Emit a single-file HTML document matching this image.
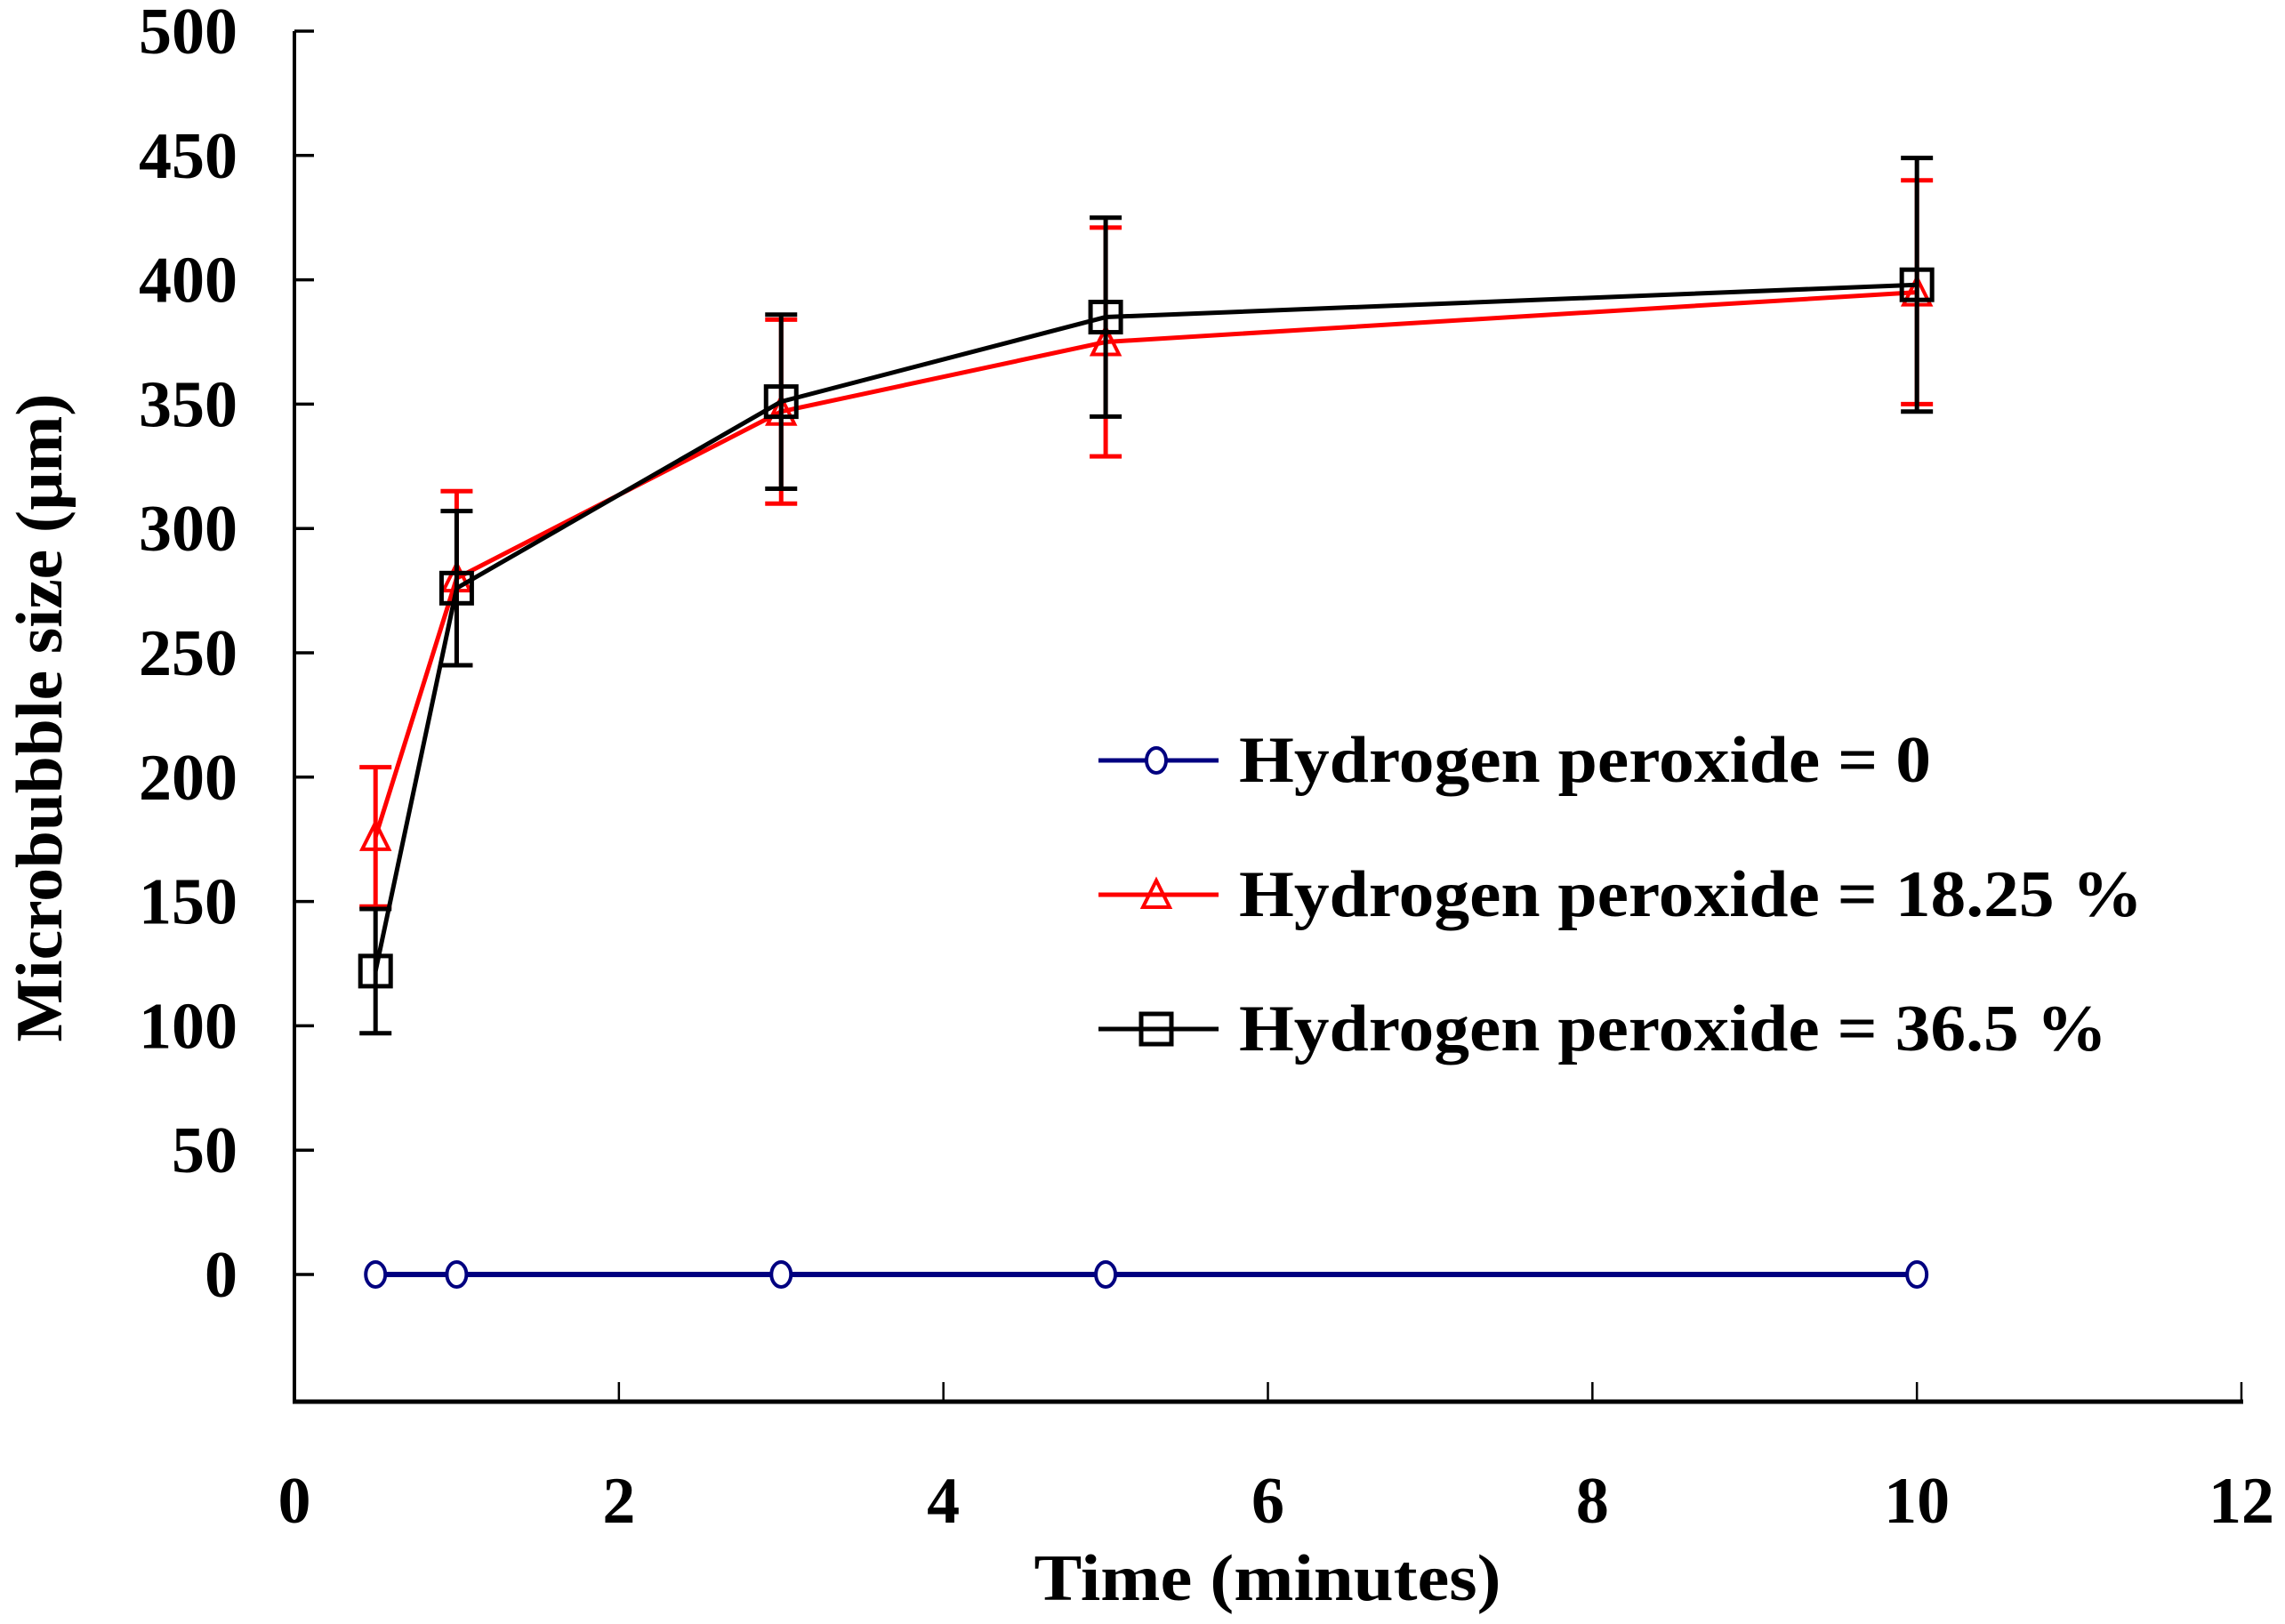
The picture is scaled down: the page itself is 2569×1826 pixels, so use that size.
<!DOCTYPE html>
<html><head><meta charset="utf-8"><style>
html,body{margin:0;padding:0;background:#fff;}
svg{display:block;}
text{font-family:"Liberation Serif",serif;font-weight:bold;fill:#000;}
</style></head><body>
<svg id="chart" width="2569" height="1826" viewBox="0 0 2569 1826" xmlns="http://www.w3.org/2000/svg">
<g id="axes"></g>
<g id="series"></g>
<g id="legend"></g>
<text x="1425" y="1799" font-size="74" text-anchor="middle" textLength="525" lengthAdjust="spacingAndGlyphs">Time (minutes)</text>
<text transform="translate(69,807) rotate(-90)" font-size="74" text-anchor="middle" textLength="729" lengthAdjust="spacingAndGlyphs">Microbubble size (µm)</text>
</svg>
<script>
const times = [0.5, 1, 3, 5, 10];
const seriesNames = ["Hydrogen peroxide = 0", "Hydrogen peroxide = 18.25 %", "Hydrogen peroxide = 36.5 %"];
const valuesZero = [0, 0, 0, 0, 0];
const valuesMid = [176, 280, 347, 375, 395];
const errMid = [28, 35, 37, 46, 45];
const valuesHigh = [122, 276, 351, 385, 398];
const errHigh = [25, 31, 35, 40, 51];
const yTicks = [0, 50, 100, 150, 200, 250, 300, 350, 400, 450, 500];
const xTicks = [0, 2, 4, 6, 8, 10, 12];

const NS = "http://www.w3.org/2000/svg";
const X0 = 331, X1 = 2520, Y0 = 1433, Y500 = 35, YB = 1576;
function xs(v){ return X0 + (X1 - X0) * v / 12; }
function ys(v){ return Y0 - (Y0 - Y500) * v / 500; }
function mk(tag, attrs, parent){ const e = document.createElementNS(NS, tag); for (const k in attrs) e.setAttribute(k, attrs[k]); parent.appendChild(e); return e; }

const axes = document.getElementById('axes');
let el = mk('line', {x1:X0, y1:Y500, x2:X0, y2:YB, stroke:'#000', 'stroke-width':4}, axes);


el = mk('line', {x1:X0-2, y1:YB, x2:X1+2, y2:YB, stroke:'#000', 'stroke-width':5}, axes);


yTicks.forEach(t => {
  const y = ys(t);
  let tk = mk('line', {x1:X0, y1:y, x2:X0+22, y2:y, stroke:'#000', 'stroke-width':3.5}, axes);
  
  
  let lb = mk('text', {x:267, y:y+25, 'font-size':74, 'text-anchor':'end'}, axes);
  lb.textContent = t;
  
  
});
xTicks.forEach(t => {
  const x = xs(t);
  let tk = mk('line', {x1:x, y1:YB, x2:x, y2:YB-22, stroke:'#000', 'stroke-width':2.5}, axes);
  
  
  let lb = mk('text', {x:x, y:1712, 'font-size':74, 'text-anchor':'middle'}, axes);
  lb.textContent = t;
  
  
});

function marker(type, cx, cy, color, parent){
  let m;
  if (type === 'circle') m = mk('ellipse', {cx:cx, cy:cy, rx:11, ry:14, fill:'#fff', stroke:color, 'stroke-width':4}, parent);
  else if (type === 'tri') m = mk('polygon', {points:`${cx},${cy-16} ${cx-15},${cy+14} ${cx+15},${cy+14}`, fill:'none', stroke:color, 'stroke-width':4}, parent);
  else m = mk('rect', {x:cx-17, y:cy-17, width:34, height:34, fill:'none', stroke:color, 'stroke-width':5}, parent);
  return m;
}

const S = document.getElementById('series');
function drawSeries(vals, errs, color, type, name){
  const g = mk('g', {}, S);
  
  
  if (errs) vals.forEach((v, i) => {
    const x = xs(times[i]);
    const hi = ys(v + errs[i]), lo = ys(v - errs[i]);
    const e = mk('path', {d:`M${x},${hi}V${lo}M${x-18},${hi}H${x+18}M${x-18},${lo}H${x+18}`, stroke:color, 'stroke-width':5, fill:'none'}, g);
    
    
  });
  const pts = vals.map((v, i) => xs(times[i]) + ',' + ys(v)).join(' ');
  const l = mk('polyline', {points:pts, fill:'none', stroke:color, 'stroke-width':type === 'circle' ? 6 : 5}, g);
  
  
  vals.forEach((v, i) => {
    const m = marker(type, xs(times[i]), ys(v), color, g);
    
    
  });
}
drawSeries(valuesZero, null, '#000080', 'circle', 'series-h2o2-0');
drawSeries(valuesMid, errMid, '#ff0000', 'tri', 'series-h2o2-18');
drawSeries(valuesHigh, errHigh, '#000000', 'square', 'series-h2o2-36');

const L = document.getElementById('legend');
const legColors = ['#000080', '#ff0000', '#000000'];
const legTypes = ['circle', 'tri', 'square'];
const legWidths = [778, 1016, 976];
seriesNames.forEach((n, i) => {
  const cy = 855 + i * 151;
  const g = mk('g', {}, L);
  
  
  mk('line', {x1:1235, y1:cy, x2:1370, y2:cy, stroke:legColors[i], 'stroke-width':5}, g);
  marker(legTypes[i], 1300, cy, legColors[i], g);
  const t = mk('text', {x:1393, y:cy+24, 'font-size':74, textLength:legWidths[i], lengthAdjust:'spacingAndGlyphs'}, g);
  t.textContent = n;
  
  
});
</script>
</body></html>
